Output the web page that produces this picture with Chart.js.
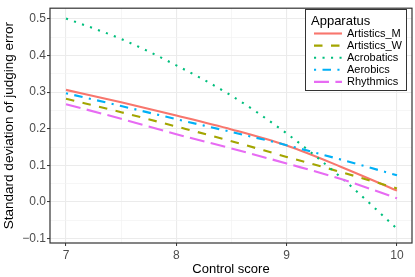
<!DOCTYPE html>
<html>
<head>
<meta charset="utf-8">
<script src="https://cdn.jsdelivr.net/npm/chart.js"></script>
<style>
  body { margin: 0; background: #fff; }
  #wrap { width: 415px; height: 277px; }
</style>
</head>
<body>
<div id="wrap"><canvas id="sd" width="415" height="277"></canvas></div>
<script>
// values
const controlScores = [7, 7.5, 8, 8.5, 9, 9.5, 10];
const artisticsM = [0.306, 0.272, 0.236, 0.198, 0.154, 0.095, 0.031];
const artisticsW = [0.282, 0.245, 0.206, 0.166, 0.123, 0.081, 0.037];
const acrobatics = [0.501, 0.445, 0.373, 0.290, 0.187, 0.065, -0.073];
const aerobics = [0.297, 0.262, 0.226, 0.191, 0.155, 0.115, 0.073];
const rhythmics = [0.267, 0.227, 0.185, 0.146, 0.105, 0.062, 0.010];

const apparatus = ['Artistics_M', 'Artistics_W', 'Acrobatics', 'Aerobics', 'Rhythmics'];
const seriesValues = [artisticsM, artisticsW, acrobatics, aerobics, rhythmics];

const xMajor = [7, 8, 9, 10];
const xMinor = [7.5, 8.5, 9.5];
const yMajor = [-0.1, 0, 0.1, 0.2, 0.3, 0.4, 0.5];
const yMinor = [-0.05, 0.05, 0.15, 0.25, 0.35, 0.45];

const lineColors = ['#F8766D', '#A3A500', '#00BF7D', '#00B0F6', '#E76BF3'];
const lineDashes = [[], [8.5, 8.5], [2.1, 6.4], [2.1, 6.4, 8.5, 6.4], [15, 6.4]];

const FONT = "'Liberation Sans', Arial, sans-serif";

function tickList(major, minor) {
    return major.map(v => ({ value: v, minor: false }))
        .concat(minor.map(v => ({ value: v, minor: true })))
        .sort((a, b) => a.value - b.value);
}

const gridOpts = {
    color: ctx => ctx.tick && ctx.tick.minor ? '#F2F2F2' : '#EBEBEB',
    lineWidth: ctx => ctx.tick && ctx.tick.minor ? 0.7 : 1.1,
    tickColor: ctx => ctx.tick && ctx.tick.minor ? 'rgba(0,0,0,0)' : '#333333',
    tickLength: 3,
    tickWidth: 1
};

// panel border + legend box drawn on top
const panelExtras = {
    id: 'panelExtras',
    afterDraw(chart) {
        const ctx = chart.ctx;
        const a = chart.chartArea;
        ctx.save();
        ctx.strokeStyle = '#333333';
        ctx.lineWidth = 1.2;
        ctx.strokeRect(a.left, a.top, a.right - a.left, a.bottom - a.top);

        // legend
        const bx = 305.5, by = 9.5, bw = 101, bh = 81;
        ctx.fillStyle = '#ffffff';
        ctx.fillRect(bx, by, bw, bh);
        ctx.strokeStyle = '#333333';
        ctx.lineWidth = 1;
        ctx.strokeRect(bx, by, bw, bh);

        ctx.fillStyle = '#000000';
        ctx.textBaseline = 'middle';
        ctx.textAlign = 'left';
        ctx.font = '13px ' + FONT;
        ctx.fillText('Apparatus', 311, 21);

        ctx.font = '11px ' + FONT;
        chart.data.datasets.forEach((ds, i) => {
            const y = 33.5 + i * 12.1;
            ctx.strokeStyle = ds.borderColor;
            ctx.lineWidth = ds.borderWidth;
            ctx.setLineDash(ds.borderDash);
            ctx.beginPath();
            ctx.moveTo(314, y);
            ctx.lineTo(342, y);
            ctx.stroke();
            ctx.setLineDash([]);
            ctx.fillStyle = '#000000';
            ctx.fillText(ds.label, 347, y);
        });
        ctx.restore();
    }
};

const ctxSd = document.getElementById('sd').getContext('2d');
const sdChart = new Chart(ctxSd, {
    type: 'line',
    data: {
        datasets: apparatus.map((name, i) => ({
            label: name,
            data: controlScores.map((x, j) => ({ x: x, y: seriesValues[i][j] })),
            borderColor: lineColors[i],
            backgroundColor: lineColors[i],
            borderWidth: 2.1,
            borderDash: lineDashes[i],
            borderCapStyle: 'butt',
            pointRadius: 0,
            fill: false,
            cubicInterpolationMode: 'monotone',
            order: apparatus.length - i
        }))
    },
    options: {
        responsive: false,
        animation: false,
        layout: { padding: { top: 3, right: 3, left: 0, bottom: 0 } },
        plugins: {
            legend: { display: false },
            tooltip: { enabled: false }
        },
        scales: {
            x: {
                type: 'linear',
                min: 6.855,
                max: 10.136,
                afterBuildTicks: scale => { scale.ticks = tickList(xMajor, xMinor); },
                afterFit: scale => { scale.height = 34; },
                grid: gridOpts,
                border: { display: false },
                ticks: {
                    autoSkip: false,
                    maxRotation: 0,
                    padding: 2,
                    color: '#4D4D4D',
                    font: { family: FONT, size: 12 },
                    callback: (v, i, ticks) => ticks[i].minor ? '' : String(v)
                },
                title: {
                    display: true,
                    text: 'Control score',
                    color: '#000000',
                    font: { family: FONT, size: 13 },
                    padding: { top: 0, bottom: 0 }
                }
            },
            y: {
                type: 'linear',
                min: -0.112,
                max: 0.529,
                afterBuildTicks: scale => { scale.ticks = tickList(yMajor, yMinor); },
                afterFit: scale => { scale.width = 50; },
                grid: gridOpts,
                border: { display: false },
                ticks: {
                    autoSkip: false,
                    padding: 1,
                    color: '#4D4D4D',
                    font: { family: FONT, size: 12 },
                    callback: (v, i, ticks) => ticks[i].minor ? '' : v.toFixed(1).replace('-', '\u2212')
                },
                title: {
                    display: true,
                    text: 'Standard deviation of judging error',
                    color: '#000000',
                    font: { family: FONT, size: 13.5 },
                    padding: { top: 1, bottom: 0 }
                }
            }
        }
    },
    plugins: [panelExtras]
});
</script>
</body>
</html>
